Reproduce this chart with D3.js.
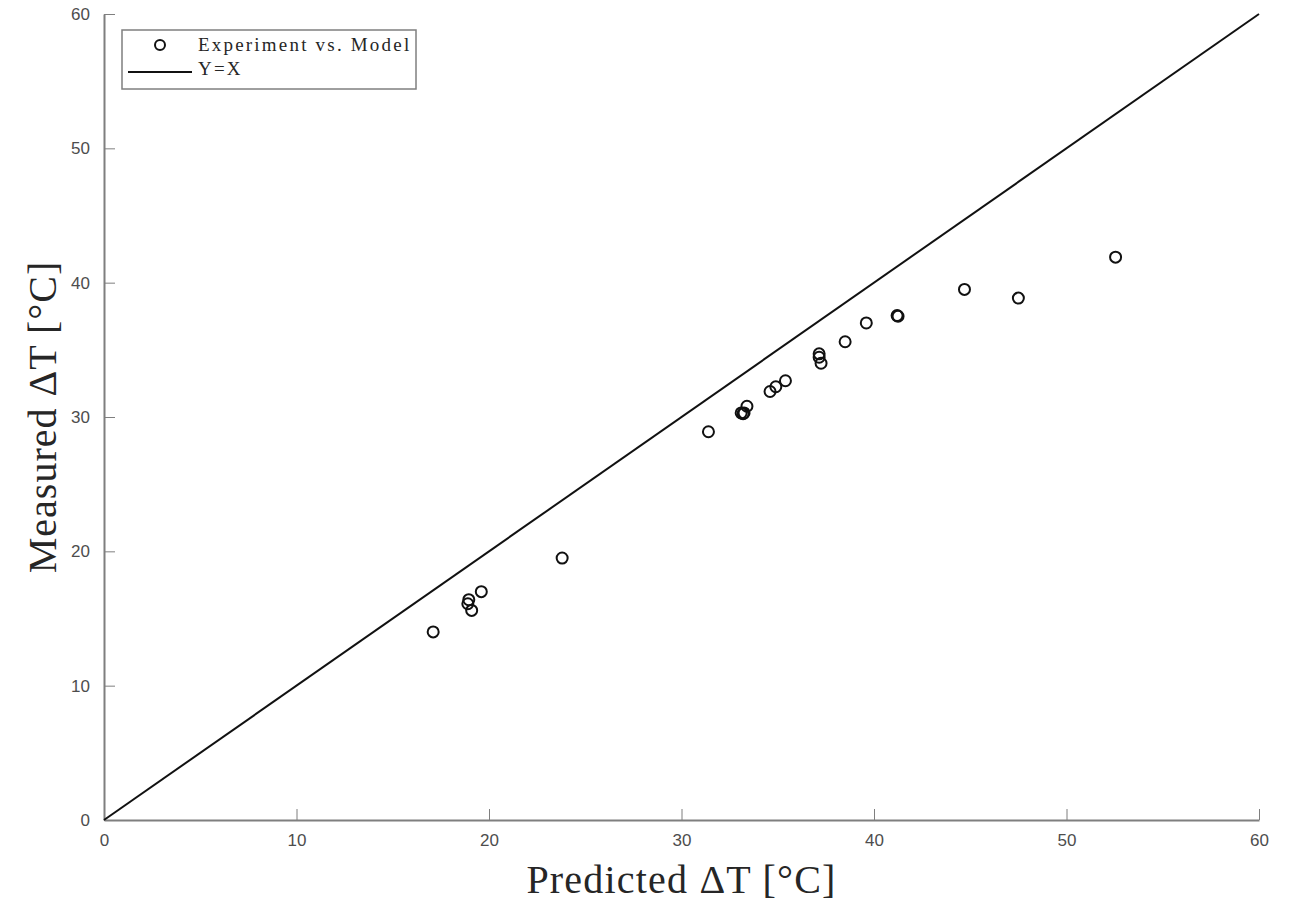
<!DOCTYPE html>
<html>
<head>
<meta charset="utf-8">
<script src="https://cdn.jsdelivr.net/npm/d3@7"></script>
<style>
  body { margin: 0; background: #fff; }
  .tick text { font-family: "Liberation Sans", Arial, sans-serif; font-size: 17px; fill: #4d4d4d; }
  .axis path, .axis line { stroke: #7f7f7f; }
  .lbl { font-family: "Liberation Serif", "DejaVu Serif", serif; fill: #262626; }
</style>
</head>
<body>
<svg id="chart" width="1294" height="904"></svg>
<script>
// predicted vs measured temperature rise
const predicted = [17.1, 18.95, 18.9, 19.1, 19.6, 23.8, 31.4, 33.1, 33.2, 33.25, 33.4,
  34.6, 34.9, 35.4, 37.15, 37.15, 37.25, 38.5, 39.6, 41.2, 41.25, 44.7, 47.5, 52.55];
const measured = [14.0, 16.4, 16.1, 15.6, 17.0, 19.5, 28.9, 30.3, 30.25, 30.3, 30.8,
  31.9, 32.25, 32.7, 34.7, 34.45, 34.0, 35.6, 37.0, 37.55, 37.5, 39.5, 38.85, 41.9];
const xTicks = [0, 10, 20, 30, 40, 50, 60];
const yTicks = [0, 10, 20, 30, 40, 50, 60];
const legendLabels = ["Experiment vs. Model", "Y=X"];

const pts = predicted.map((p, i) => ({ p, m: measured[i] }));

const margin = { left: 104, right: 35, top: 14, bottom: 84 };
const W = 1294, H = 904;
const svg = d3.select("#chart");

const x = d3.scaleLinear().domain([0, 60]).range([margin.left, W - margin.right]);
const y = d3.scaleLinear().domain([0, 60]).range([H - margin.bottom, margin.top]);

svg.append("g")
  .attr("class", "axis")
  .attr("transform", `translate(0,${y(0)})`)
  .call(d3.axisBottom(x).tickValues(xTicks).tickSize(-11).tickSizeOuter(0).tickPadding(14))
  .call(g => g.select(".domain").attr("stroke-width", 2));

svg.append("g")
  .attr("class", "axis")
  .attr("transform", `translate(${x(0)},0)`)
  .call(d3.axisLeft(y).tickValues(yTicks).tickSize(-11).tickSizeOuter(0).tickPadding(14))
  .call(g => g.select(".domain").attr("stroke-width", 2));

// y = x reference
svg.append("line")
  .attr("x1", x(0)).attr("y1", y(0))
  .attr("x2", x(60)).attr("y2", y(60))
  .attr("stroke", "#111").attr("stroke-width", 2);

svg.append("g")
  .selectAll("circle")
  .data(pts)
  .join("circle")
  .attr("cx", d => x(d.p))
  .attr("cy", d => y(d.m))
  .attr("r", 5.5)
  .attr("fill", "none")
  .attr("stroke", "#111")
  .attr("stroke-width", 2);

// axis titles
svg.append("text")
  .attr("class", "lbl")
  .attr("x", (x(0) + x(60)) / 2)
  .attr("y", 893)
  .attr("text-anchor", "middle")
  .attr("font-size", 40)
  .attr("letter-spacing", 1.2)
  .text("Predicted ΔT [°C]");

svg.append("text")
  .attr("class", "lbl")
  .attr("transform", `translate(56,${(y(0) + y(60)) / 2}) rotate(-90)`)
  .attr("text-anchor", "middle")
  .attr("font-size", 40)
  .attr("letter-spacing", 1)
  .text("Measured ΔT [°C]");

// legend
const lg = svg.append("g").attr("transform", "translate(122,30)");
lg.append("rect")
  .attr("width", 294).attr("height", 59)
  .attr("fill", "#fff").attr("stroke", "#7f7f7f").attr("stroke-width", 1.5);
lg.append("circle")
  .attr("cx", 38).attr("cy", 15).attr("r", 5)
  .attr("fill", "none").attr("stroke", "#111").attr("stroke-width", 2);
lg.append("line")
  .attr("x1", 6).attr("x2", 70).attr("y1", 42).attr("y2", 42)
  .attr("stroke", "#111").attr("stroke-width", 2);
lg.selectAll("text.leg")
  .data(legendLabels)
  .join("text")
  .attr("class", "lbl leg")
  .attr("x", 76)
  .attr("y", (d, i) => 21 + i * 24)
  .attr("font-size", 19)
  .attr("letter-spacing", 2.2)
  .text(d => d);
</script>
</body>
</html>
